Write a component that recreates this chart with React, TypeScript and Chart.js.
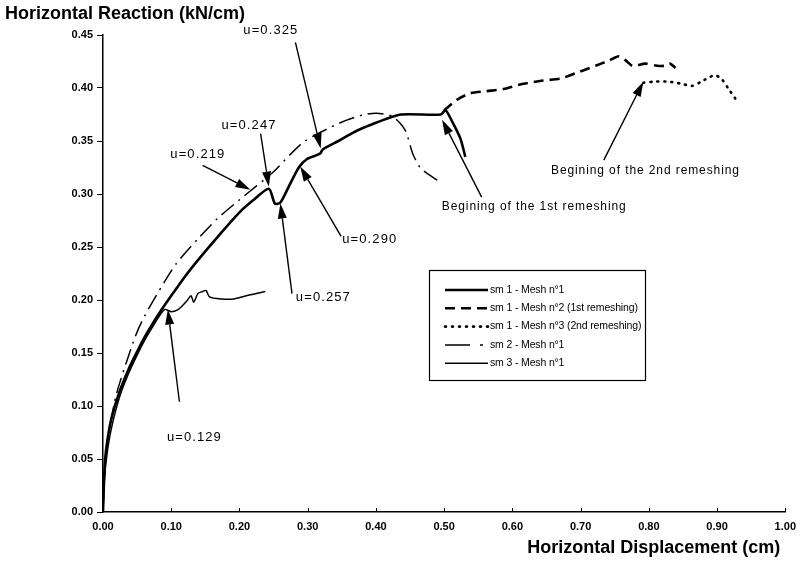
import React, { useEffect, useRef } from 'react';
import { Chart, registerables } from 'chart.js';

Chart.register(...registerables);

// ---- tick values ----
const xTickValues = [0, 0.1, 0.2, 0.3, 0.4, 0.5, 0.6, 0.7, 0.8, 0.9, 1.0];
const yTickValues = [0, 0.05, 0.1, 0.15, 0.2, 0.25, 0.3, 0.35, 0.4, 0.45];

// ---- series labels ----
const seriesLabels = [
  'sm 1 - Mesh n°1',
  'sm 1 - Mesh n°2 (1st remeshing)',
  'sm 1 - Mesh n°3 (2nd remeshing)',
  'sm 2 - Mesh n°1',
  'sm 3 - Mesh n°1',
];

// ---- sm 1 - Mesh n°1 ----
const sm1Mesh1X = [0, 0.001, 0.003, 0.007, 0.013, 0.024, 0.037, 0.049, 0.061, 0.073, 0.086, 0.1, 0.12, 0.141, 0.17, 0.199, 0.22, 0.243, 0.252, 0.26, 0.273, 0.287, 0.299, 0.318, 0.322, 0.345, 0.364, 0.38, 0.403, 0.437, 0.495, 0.502, 0.512, 0.524, 0.531];
const sm1Mesh1Y = [0, 0.02, 0.049, 0.07, 0.09, 0.113, 0.134, 0.15, 0.165, 0.178, 0.191, 0.204, 0.222, 0.239, 0.261, 0.282, 0.294, 0.305, 0.291, 0.292, 0.308, 0.325, 0.333, 0.338, 0.342, 0.35, 0.357, 0.362, 0.368, 0.375, 0.375, 0.379, 0.368, 0.352, 0.335];

// ---- sm 1 - Mesh n°2 ----
const sm1Mesh2X = [0.5, 0.519, 0.538, 0.562, 0.587, 0.616, 0.645, 0.671, 0.693, 0.722, 0.742, 0.756, 0.766, 0.776, 0.795, 0.812, 0.824, 0.831, 0.839];
const sm1Mesh2Y = [0.379, 0.389, 0.395, 0.397, 0.399, 0.404, 0.407, 0.409, 0.414, 0.421, 0.426, 0.43, 0.426, 0.421, 0.423, 0.421, 0.421, 0.423, 0.419];

// ---- sm 1 - Mesh n°3 ----
const sm1Mesh3X = [0.792, 0.809, 0.829, 0.848, 0.863, 0.877, 0.896, 0.906, 0.916, 0.93];
const sm1Mesh3Y = [0.405, 0.406, 0.406, 0.404, 0.402, 0.406, 0.412, 0.409, 0.4, 0.387];

// ---- sm 2 - Mesh n°1 ----
const sm2X = [0, 0.002, 0.005, 0.01, 0.02, 0.047, 0.061, 0.09, 0.107, 0.141, 0.168, 0.199, 0.25, 0.274, 0.296, 0.347, 0.383, 0.405, 0.425, 0.443, 0.454, 0.466, 0.49];
const sm2Y = [0, 0.035, 0.06, 0.08, 0.112, 0.165, 0.185, 0.217, 0.234, 0.259, 0.277, 0.294, 0.321, 0.337, 0.35, 0.367, 0.375, 0.376, 0.373, 0.36, 0.338, 0.324, 0.313];

// ---- sm 3 - Mesh n°1 ----
const sm3X = [0, 0.002, 0.006, 0.012, 0.024, 0.037, 0.05, 0.062, 0.075, 0.09, 0.1, 0.11, 0.117, 0.124, 0.129, 0.133, 0.139, 0.146, 0.151, 0.156, 0.173, 0.192, 0.216, 0.238];
const sm3Y = [0, 0.03, 0.055, 0.078, 0.108, 0.13, 0.148, 0.163, 0.177, 0.191, 0.189, 0.191, 0.195, 0.2, 0.204, 0.198, 0.206, 0.208, 0.209, 0.203, 0.201, 0.201, 0.205, 0.208];

// ---- annotations (data units) ----
const annotText = ['u=0.325', 'u=0.247', 'u=0.219', 'u=0.290', 'u=0.257', 'u=0.129', 'Begining of the 1st remeshing', 'Begining of the 2nd remeshing'];
const annotTextX = [0.246, 0.214, 0.139, 0.391, 0.323, 0.134, 0.632, 0.795];
const annotTextY = [0.454, 0.365, 0.337, 0.257, 0.202, 0.07, 0.288, 0.322];
const arrowTailX = [0.282, 0.231, 0.146, 0.349, 0.277, 0.112, 0.555, 0.734];
const arrowTailY = [0.443, 0.357, 0.327, 0.26, 0.206, 0.104, 0.297, 0.332];
const arrowTipX = [0.319, 0.243, 0.216, 0.289, 0.26, 0.095, 0.497, 0.792];
const arrowTipY = [0.343, 0.307, 0.304, 0.326, 0.291, 0.191, 0.37, 0.406];

const FONT = '"Liberation Sans", Arial, Helvetica, sans-serif';

const toPts = (xs: number[], ys: number[]) => xs.map((x, i) => ({ x, y: ys[i] }));

function drawArrow(ctx: CanvasRenderingContext2D, x1: number, y1: number, x2: number, y2: number) {
  const ang = Math.atan2(y2 - y1, x2 - x1);
  const headLen = 15;
  const headW = 4.5;
  const bx = x2 - headLen * Math.cos(ang);
  const by = y2 - headLen * Math.sin(ang);
  ctx.save();
  ctx.strokeStyle = '#000';
  ctx.fillStyle = '#000';
  ctx.lineWidth = 1.4;
  ctx.setLineDash([]);
  ctx.beginPath();
  ctx.moveTo(x1, y1);
  ctx.lineTo(bx, by);
  ctx.stroke();
  ctx.beginPath();
  ctx.moveTo(x2, y2);
  ctx.lineTo(bx + headW * Math.sin(ang), by - headW * Math.cos(ang));
  ctx.lineTo(bx - headW * Math.sin(ang), by + headW * Math.cos(ang));
  ctx.closePath();
  ctx.fill();
  ctx.restore();
}

const overlayPlugin = {
  id: 'overlay',
  afterDraw(chart: any) {
    const ctx: CanvasRenderingContext2D = chart.ctx;
    const xs = chart.scales.x;
    const ys = chart.scales.y;
    const area = chart.chartArea;
    ctx.save();

    // inward x tick marks
    ctx.strokeStyle = '#000';
    ctx.lineWidth = 1;
    xTickValues.forEach((v) => {
      const px = Math.round(xs.getPixelForValue(v)) + 0.5;
      ctx.beginPath();
      ctx.moveTo(px, area.bottom);
      ctx.lineTo(px, area.bottom - 4);
      ctx.stroke();
    });

    // annotations
    annotText.forEach((t, i) => {
      drawArrow(ctx, xs.getPixelForValue(arrowTailX[i]), ys.getPixelForValue(arrowTailY[i]), xs.getPixelForValue(arrowTipX[i]), ys.getPixelForValue(arrowTipY[i]));
      const long = t.length > 10;
      ctx.font = long ? `12px ${FONT}` : `13px ${FONT}`;
      (ctx as any).letterSpacing = long ? '0.9px' : '1.1px';
      ctx.fillStyle = '#000';
      ctx.textAlign = 'center';
      ctx.textBaseline = 'middle';
      ctx.fillText(t, xs.getPixelForValue(annotTextX[i]), ys.getPixelForValue(annotTextY[i]));
    });
    (ctx as any).letterSpacing = '0px';

    // legend box
    const bx = 429.5, by = 270.5, bw = 216, bh = 110;
    ctx.fillStyle = '#fff';
    ctx.fillRect(bx, by, bw, bh);
    ctx.strokeStyle = '#000';
    ctx.lineWidth = 1.2;
    ctx.strokeRect(bx, by, bw, bh);
    const rowY0 = 290, rowDy = 18.3, sx0 = 445, sx1 = 488;
    chart.data.datasets.forEach((ds: any, i: number) => {
      const y = rowY0 + i * rowDy;
      ctx.save();
      ctx.strokeStyle = '#000';
      ctx.lineWidth = ds.borderWidth;
      ctx.lineCap = ds.borderCapStyle || 'butt';
      ctx.setLineDash(ds.legendDash || ds.borderDash || []);
      ctx.beginPath();
      ctx.moveTo(sx0, y);
      ctx.lineTo(sx1, y);
      ctx.stroke();
      ctx.restore();
      ctx.font = `10.5px ${FONT}`;
      (ctx as any).letterSpacing = '-0.15px';
      ctx.fillStyle = '#000';
      ctx.textAlign = 'left';
      ctx.textBaseline = 'middle';
      ctx.fillText(ds.label, sx1 + 2, y);
    });
    (ctx as any).letterSpacing = '0px';

    // axis titles
    ctx.font = `bold 18px ${FONT}`;
    ctx.fillStyle = '#000';
    ctx.textBaseline = 'middle';
    ctx.textAlign = 'left';
    ctx.fillText('Horizontal Reaction (kN/cm)', area.left - 98, area.top - 21);
    ctx.textAlign = 'right';
    ctx.fillText('Horizontal Displacement (cm)', area.right - 5, area.bottom + 36);
    ctx.restore();
  },
};

export default function App() {
  const ref = useRef<HTMLCanvasElement>(null);
  useEffect(() => {
    const canvas = ref.current!;
    const chart = new Chart(canvas, {
      type: 'scatter',
      data: {
        datasets: [
          { label: seriesLabels[0], data: toPts(sm1Mesh1X, sm1Mesh1Y), borderColor: '#000', borderWidth: 2.6, showLine: true, pointRadius: 0, tension: 0.25 },
          { label: seriesLabels[1], data: toPts(sm1Mesh2X, sm1Mesh2Y), borderColor: '#000', borderWidth: 2.6, borderDash: [10, 6], showLine: true, pointRadius: 0, tension: 0.25 },
          { label: seriesLabels[2], data: toPts(sm1Mesh3X, sm1Mesh3Y), borderColor: '#000', borderWidth: 2.6, borderDash: [1, 6], borderCapStyle: 'round', showLine: true, pointRadius: 0, tension: 0.25 },
          { label: seriesLabels[3], data: toPts(sm2X, sm2Y), borderColor: '#000', borderWidth: 1.5, borderDash: [16, 6, 2, 6], legendDash: [25, 10, 3, 10], showLine: true, pointRadius: 0, tension: 0.25 } as any,
          { label: seriesLabels[4], data: toPts(sm3X, sm3Y), borderColor: '#000', borderWidth: 1.5, showLine: true, pointRadius: 0, tension: 0.25 },
        ],
      },
      options: {
        responsive: false,
        animation: false,
        layout: { padding: { top: 35, right: 13, left: 0, bottom: 0 } },
        plugins: { legend: { display: false }, tooltip: { enabled: false }, title: { display: false } },
        scales: {
          x: {
            type: 'linear',
            min: 0,
            max: 1,
            afterFit: (s: any) => { s.height = 55; },
            afterBuildTicks: (s: any) => { s.ticks = xTickValues.map((v) => ({ value: v })); },
            ticks: { callback: (v: any) => Number(v).toFixed(2), font: { family: FONT, weight: 'bold', size: 11 }, color: '#000', padding: 8, maxRotation: 0, autoSkip: false },
            grid: { display: true, drawOnChartArea: false, drawTicks: false },
            border: { color: '#000', width: 1.5 },
          },
          y: {
            type: 'linear',
            min: 0,
            max: 0.45,
            afterFit: (s: any) => { s.width = 103; },
            afterBuildTicks: (s: any) => { s.ticks = yTickValues.map((v) => ({ value: v })); },
            ticks: { callback: (v: any) => Number(v).toFixed(2), font: { family: FONT, weight: 'bold', size: 11 }, color: '#000', padding: 4 },
            grid: { display: true, drawOnChartArea: false, drawTicks: true, tickLength: 6, color: '#000' },
            border: { color: '#000', width: 1.5 },
          },
        },
      },
      plugins: [overlayPlugin],
    });
    return () => chart.destroy();
  }, []);
  return (
    <div style={{ position: 'fixed', left: 0, top: 0, width: 804, height: 567, background: '#fff' }}>
      <canvas ref={ref} width={804} height={567} style={{ display: 'block' }} />
    </div>
  );
}
